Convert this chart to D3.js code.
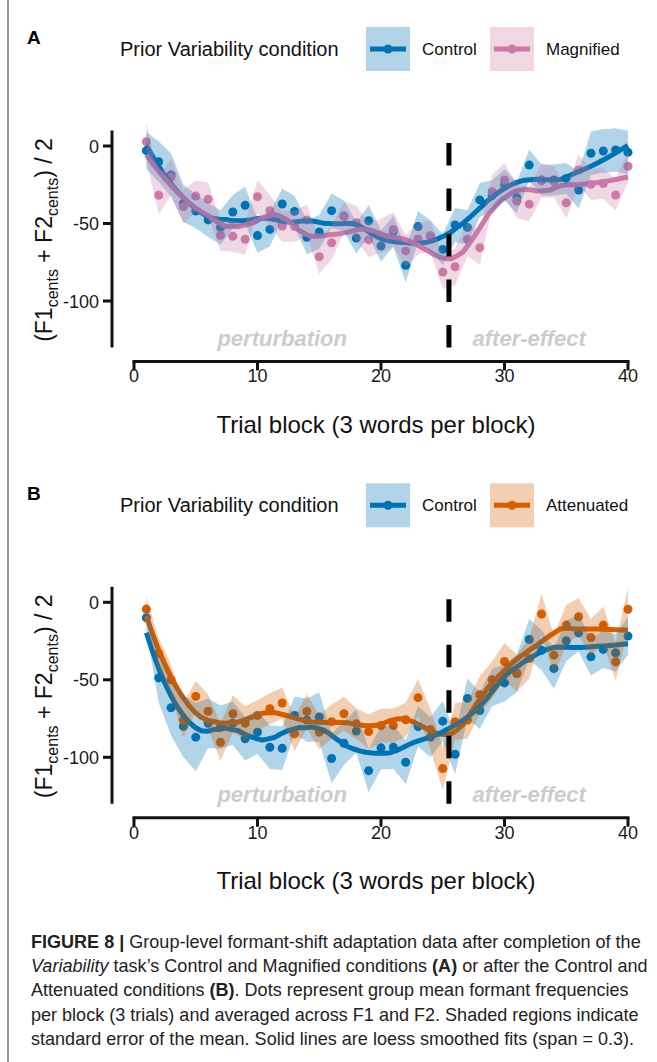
<!DOCTYPE html>
<html>
<head>
<meta charset="utf-8">
<script src="https://cdn.jsdelivr.net/npm/d3@7"></script>
<style>
  body { margin: 0; background: #fff; }
  svg { display: block; }
  text { font-family: "Liberation Sans", Arial, Helvetica, sans-serif; }
</style>
</head>
<body>
<svg id="fig" width="657" height="1062"></svg>
<script>
// ---- data: group means per trial block (cents) and their standard errors ----
const blocks = d3.range(1, 41);

const aControl = [-3.0, -10.1, -18.7, -37, -42, -47.7, -52.5, -42.6, -38.3, -57.8,
  -53.8, -37.4, -42.2, -58.9, -55.5, -41.7, -45.2, -59.4, -48.2, -64.5,
  -55, -77, -52, -58, -66.7, -51, -52.5, -34.8, -32, -25,
  -33.3, -12.3, -21.9, -21.9, -20.9, -28.4, -4.7, -3.2, -2.6, -4.1];
const aControlSE = [12, 13, 14, 12, 11, 11, 11, 11, 12, 11, 11, 10, 10, 11, 11, 11, 10, 10, 10, 10,
  10, 11, 10, 10, 10, 11, 11, 11, 10, 10, 10, 10, 10, 10, 10, 12, 14, 14, 14, 14];

const aMagnified = [2.8, -31.8, -20, -39, -32.3, -34.4, -57.6, -58.3, -60.2, -32.7,
  -41.7, -51.6, -52, -47.7, -71.4, -62.4, -45.6, -49.5, -60.6, -58,
  -53.8, -67.7, -60, -58, -81.3, -77.9, -60.2, -65.6, -29.5, -21.9,
  -35.6, -37.5, -22.4, -23, -36.6, -15.5, -24.8, -24.2, -31.6, -13.1];
const aMagnifiedSE = [12, 12, 12, 11, 10, 11, 10, 10, 10, 11, 10, 10, 10, 10, 11, 11, 10, 11, 11, 11,
  11, 10, 10, 10, 11, 12, 11, 11, 11, 11, 11, 11, 11, 10, 10, 10, 10, 10, 10, 10];

const bControl = [-10, -48.8, -68, -80, -87, -78, -80.5, -78, -88, -83.8,
  -93.5, -94.2, -73, -76, -74, -100.8, -90.9, -83.1, -108.6, -93.9,
  -93.5, -103.2, -80.1, -87, -76.7, -98, -62, -69.8, -55, -52,
  -46, -24, -30.9, -42.7, -24.8, -19.7, -35.2, -30.4, -32.6, -21.8];
const bControlSE = [8, 16, 18, 20, 22, 16, 14, 14, 14, 14, 14, 14, 12, 14, 16, 16, 14, 14, 14, 14,
  14, 14, 13, 13, 13, 13, 13, 12, 12, 12, 12, 13, 13, 13, 13, 12, 12, 12, 12, 12];

const bAttenuated = [-4.4, -33, -50, -76, -60.7, -70.3, -90.3, -71.9, -78, -73,
  -68.7, -65, -84.9, -70.4, -83.8, -77, -71.9, -78.4, -83.4, -79.5,
  -79.5, -75.8, -61.5, -82, -107.3, -77, -76, -59.7, -50, -38.2,
  -45.6, -36.3, -7.6, -34.1, -14.7, -9.3, -22.7, -14.7, -38.4, -4.5];
const bAttenuatedSE = [8, 10, 10, 11, 10, 11, 12, 12, 11, 10, 10, 10, 11, 11, 11, 11, 11, 10, 11, 11,
  11, 11, 12, 13, 14, 12, 12, 12, 12, 12, 12, 13, 13, 13, 13, 12, 12, 12, 12, 14];

const xTicks = [0, 10, 20, 30, 40];
const yTicks = [0, -50, -100];
const phaseBoundary = 25.5;
const phaseLabels = [{ text: "perturbation", at: 12 }, { text: "after-effect", at: 32 }];
const loessSpan = 0.3;

const colors = { Control: "#0072B2", Magnified: "#CC79A7", Attenuated: "#D55E00" };

const captionLines = [
  [{ t: "FIGURE 8 |", w: "bold" }, { t: " Group-level formant-shift adaptation data after completion of the" }],
  [{ t: "Variability", s: "italic" }, { t: " task\u2019s Control and Magnified conditions " }, { t: "(A)", w: "bold" }, { t: " or after the Control and" }],
  [{ t: "Attenuated conditions " }, { t: "(B)", w: "bold" }, { t: ". Dots represent group mean formant frequencies" }],
  [{ t: "per block (3 trials) and averaged across F1 and F2. Shaded regions indicate" }],
  [{ t: "standard error of the mean. Solid lines are loess smoothed fits (span = 0.3)." }]
];

// ---- loess (local quadratic, tricube weights) ----
function loess(xs, ys, span, grid) {
  const n = xs.length;
  const q = Math.floor(n * span);
  return grid.map(x0 => {
    const dist = xs.map(xi => Math.abs(xi - x0));
    const h = dist.slice().sort((a, b) => a - b)[q - 1];
    const S = [[0, 0, 0], [0, 0, 0], [0, 0, 0]];
    const T = [0, 0, 0];
    for (let i = 0; i < n; i++) {
      const u = dist[i] / h;
      if (u >= 1) continue;
      const w = Math.pow(1 - u * u * u, 3);
      const t = xs[i] - x0;
      const b = [1, t, t * t];
      for (let j = 0; j < 3; j++) {
        T[j] += w * b[j] * ys[i];
        for (let k = 0; k < 3; k++) S[j][k] += w * b[j] * b[k];
      }
    }
    // Gaussian elimination
    const A = S.map((r, i) => r.concat([T[i]]));
    for (let c = 0; c < 3; c++) {
      let p = c;
      for (let r = c + 1; r < 3; r++) if (Math.abs(A[r][c]) > Math.abs(A[p][c])) p = r;
      [A[c], A[p]] = [A[p], A[c]];
      for (let r = c + 1; r < 3; r++) {
        const f = A[r][c] / A[c][c];
        for (let k = c; k < 4; k++) A[r][k] -= f * A[c][k];
      }
    }
    const beta = [0, 0, 0];
    for (let r = 2; r >= 0; r--) {
      let s = A[r][3];
      for (let k = r + 1; k < 3; k++) s -= A[r][k] * beta[k];
      beta[r] = s / A[r][r];
    }
    return { x: x0, v: beta[0] };
  });
}

// ---- figure ----
const svg = d3.select("#fig");
const W = 657, H = 1062;

svg.append("line")
  .attr("x1", 8).attr("x2", 8).attr("y1", 0).attr("y2", H)
  .attr("stroke", "#555").attr("stroke-width", 1.2);

const x = d3.scaleLinear().domain([0, 40]).range([134, 628]);
const grid = d3.range(80).map(i => 1 + i * 39 / 79);

const panels = [
  {
    letter: "A", top: 0,
    series: [
      { name: "Control", values: aControl, se: aControlSE },
      { name: "Magnified", values: aMagnified, se: aMagnifiedSE }
    ],
    lineOrder: [0, 1]
  },
  {
    letter: "B", top: 456.3,
    series: [
      { name: "Control", values: bControl, se: bControlSE },
      { name: "Attenuated", values: bAttenuated, se: bAttenuatedSE }
    ],
    lineOrder: [1, 0]
  }
];

panels.forEach(p => {
  const g = svg.append("g");
  const y = d3.scaleLinear().domain([10, -130]).range([p.top + 130.5, p.top + 347.5]);
  const xAxisY = y(-139);

  // panel letter
  g.append("text").attr("x", 27).attr("y", p.top + 44)
    .attr("font-size", 19).attr("font-weight", "bold").text(p.letter);

  // legend
  const legY = p.top + 49;
  g.append("text").attr("x", 120).attr("y", legY + 7)
    .attr("font-size", 20).attr("fill", "#111").text("Prior Variability condition");
  const keyX = [366, 490], labX = [422, 546];
  p.series.forEach((s, i) => {
    const c = colors[s.name];
    g.append("rect").attr("x", keyX[i]).attr("y", legY - 22).attr("width", 44).attr("height", 44)
      .attr("fill", c).attr("fill-opacity", 0.3);
    g.append("line").attr("x1", keyX[i] + 4).attr("x2", keyX[i] + 40)
      .attr("y1", legY).attr("y2", legY).attr("stroke", c).attr("stroke-width", 5);
    g.append("circle").attr("cx", keyX[i] + 22).attr("cy", legY).attr("r", 4.5).attr("fill", c);
    g.append("text").attr("x", labX[i]).attr("y", legY + 6)
      .attr("font-size", 17).attr("fill", "#111").text(s.name);
  });

  // y axis
  g.append("line").attr("x1", 112).attr("x2", 112).attr("y1", y(10)).attr("y2", y(-130))
    .attr("stroke", "#111").attr("stroke-width", 3);
  yTicks.forEach(t => {
    g.append("line").attr("x1", 103).attr("x2", 112).attr("y1", y(t)).attr("y2", y(t))
      .attr("stroke", "#111").attr("stroke-width", 3);
    g.append("text").attr("x", 99).attr("y", y(t) + 6.5).attr("text-anchor", "end")
      .attr("font-size", 18).attr("fill", "#1a1a1a").text(t);
  });

  // x axis
  g.append("line").attr("x1", x(0)).attr("x2", x(40)).attr("y1", xAxisY).attr("y2", xAxisY)
    .attr("stroke", "#111").attr("stroke-width", 3).attr("stroke-linecap", "square");
  xTicks.forEach(t => {
    g.append("line").attr("x1", x(t)).attr("x2", x(t)).attr("y1", xAxisY).attr("y2", xAxisY + 9)
      .attr("stroke", "#111").attr("stroke-width", 3);
    g.append("text").attr("x", x(t)).attr("y", xAxisY + 21).attr("text-anchor", "middle")
      .attr("font-size", 18).attr("fill", "#1a1a1a").text(t);
  });

  // axis titles
  g.append("text").attr("x", 376).attr("y", p.top + 432.5).attr("text-anchor", "middle")
    .attr("font-size", 24).attr("fill", "#111").text("Trial block (3 words per block)");
  const yt = g.append("text")
    .attr("transform", `translate(52,${p.top + 240}) rotate(-90)`)
    .attr("text-anchor", "middle").attr("font-size", 23).attr("fill", "#111");
  yt.append("tspan").text("(F1");
  yt.append("tspan").attr("font-size", 16).attr("dy", 6).text("cents");
  yt.append("tspan").attr("dy", -6).text(" + F2");
  yt.append("tspan").attr("font-size", 16).attr("dy", 6).text("cents");
  yt.append("tspan").attr("dy", -6).text(") / 2");

  // phase labels
  phaseLabels.forEach(l => {
    g.append("text").attr("x", x(l.at)).attr("y", p.top + 346).attr("text-anchor", "middle")
      .attr("font-size", 22).attr("font-weight", "bold").attr("font-style", "italic")
      .attr("fill", "#cccccc").text(l.text);
  });

  // points
  p.series.forEach(s => {
    g.append("g").selectAll("circle").data(blocks).join("circle")
      .attr("cx", d => x(d)).attr("cy", (d, i) => y(s.values[i]))
      .attr("r", 4.5).attr("fill", colors[s.name]);
  });

  // loess lines
  p.lineOrder.forEach(i => {
    const s = p.series[i];
    const fit = loess(blocks, s.values, loessSpan, grid);
    g.append("path").datum(fit)
      .attr("d", d3.line().x(d => x(d.x)).y(d => y(d.v)))
      .attr("fill", "none").attr("stroke", colors[s.name]).attr("stroke-width", 5)
      .attr("stroke-linejoin", "round");
  });

  // standard-error ribbons
  p.series.forEach(s => {
    const rows = blocks.map((b, i) => ({ x: b, v: s.values[i], se: s.se[i] }));
    g.append("path").datum(rows)
      .attr("d", d3.area().x(d => x(d.x)).y0(d => y(d.v - d.se)).y1(d => y(d.v + d.se)))
      .attr("fill", colors[s.name]).attr("fill-opacity", 0.3);
  });

  // perturbation / after-effect boundary
  g.append("line")
    .attr("x1", x(phaseBoundary)).attr("x2", x(phaseBoundary))
    .attr("y1", y(-130)).attr("y2", y(10))
    .attr("stroke", "#000").attr("stroke-width", 5).attr("stroke-dasharray", "22.5 23");
});

// caption: condensed setting, lines squeezed horizontally by a common factor
const cap = svg.append("g");
const capLines = captionLines.map((parts, li) => {
  const t = cap.append("text").attr("x", 0).attr("y", 0)
    .attr("font-size", 18.5).attr("fill", "#222");
  parts.forEach(pt => {
    t.append("tspan").attr("font-weight", pt.w || null).attr("font-style", pt.s || null).text(pt.t);
  });
  return t;
});
const w0 = capLines[0].node().getComputedTextLength();
const k = 610 / w0;
capLines.forEach((t, li) => t.attr("transform", `translate(31,${948 + li * 24.2}) scale(${k},1)`));
</script>
</body>
</html>
